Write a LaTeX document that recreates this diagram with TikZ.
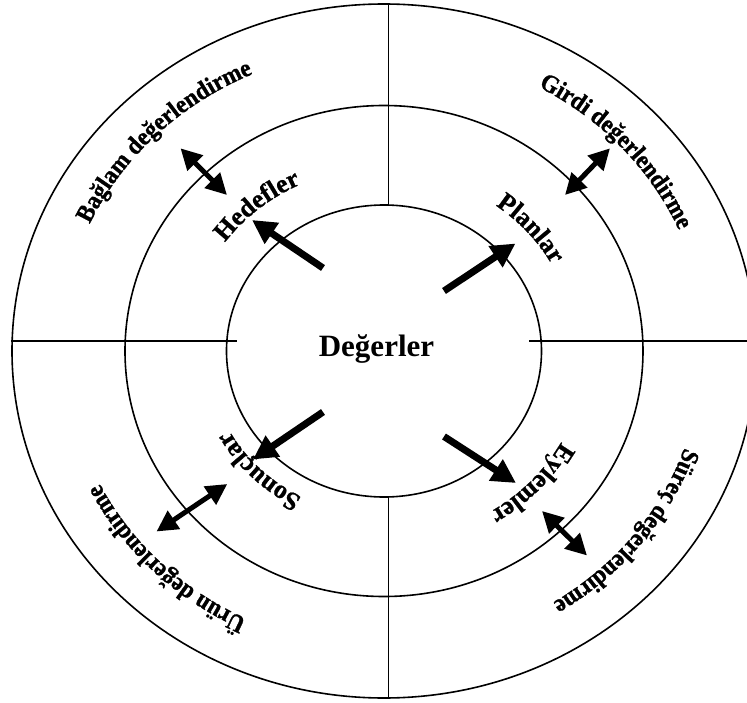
\documentclass[tikz,border=0pt]{standalone}
\usepackage{fontspec}
\setmainfont{Liberation Serif}
\newfontfamily\ringfont[FakeStretch=0.93,FakeBold=1.2]{Liberation Serif}
\newfontfamily\coreringfont[FakeBold=0.8]{Liberation Serif}
\usetikzlibrary{arrows.meta,decorations.text}

% text set along a clockwise elliptical arc, centred on angle #1,
% baseline at radius #2 (x radius stretched by 1.07), font commands #3
\newcommand\ringlabel[4]{%
  \path[decorate,decoration={text along path,text align=center,
      text={|#3|#4}}]
    ({#1+70}:{1.07*#2} and {#2})
    arc[start angle={#1+70},end angle={#1-70},x radius={1.07*#2},y radius={#2}];}

\newcommand\innerfont{\coreringfont\fontsize{26}{26}\selectfont\bfseries}
\newcommand\outerfont{\ringfont\fontsize{25}{25}\selectfont\bfseries}

\tikzset{
  ring/.style={line width=1.6pt},
  divider/.style={line width=1.8pt},
  flow/.style={line width=7pt,-{Triangle[length=24pt,width=24pt]}},
  link/.style={line width=5pt,
    {Triangle[length=21pt,width=21pt]}-{Triangle[length=21pt,width=21pt]}},
}

\begin{document}
\begin{tikzpicture}[x=1pt,y=1pt]
  \useasboundingbox (-384,-351) rectangle (363,351);

  % three rings
  \draw[ring] (0,0) ellipse [x radius=372, y radius=347];
  \draw[ring] (0,0) ellipse [x radius=259, y radius=245.5];
  \draw[ring] (0,0) ellipse [x radius=157.5, y radius=146];

  % dividers between the four quadrants
  \coordinate (vt1) at (4.6,347);   \coordinate (vt2) at (4.6,146);
  \coordinate (vb1) at (4.6,-146);  \coordinate (vb2) at (4.6,-347);
  \coordinate (hl1) at (-373,10.3); \coordinate (hl2) at (-147,10.3);
  \coordinate (hr1) at (145,10.3);  \coordinate (hr2) at (380,10.3);
  \draw[divider] (vt1) -- (vt2);
  \draw[divider] (vb1) -- (vb2);
  \draw[divider] (hl1) -- (hl2);
  \draw[divider] (hr1) -- (hr2);

  % centre
  \node[font=\bfseries\fontsize{31}{31}\selectfont,anchor=base] (values) at (-7.5,-5.7) {Değerler};

  % arrows from the centre outwards
  \coordinate (hedT) at (-61,83);   \coordinate (hedH) at (-132,131);
  \coordinate (plaT) at (60,60);    \coordinate (plaH) at (131.5,107.5);
  \coordinate (sonT) at (-61,-61);  \coordinate (sonH) at (-131,-108.5);
  \coordinate (eylT) at (60,-85.5); \coordinate (eylH) at (132,-132);
  \draw[flow] (hedT) -- (hedH);
  \draw[flow] (plaT) -- (plaH);
  \draw[flow] (sonT) -- (sonH);
  \draw[flow] (eylT) -- (eylH);

  % two-way arrows between middle and outer ring
  \coordinate (bagA) at (-203.5,202.7); \coordinate (bagB) at (-157,156);
  \coordinate (girA) at (226,202.7);    \coordinate (girB) at (181,156);
  \coordinate (uruA) at (-156.7,-133);  \coordinate (uruB) at (-227.5,-180.5);
  \coordinate (surA) at (158,-160);     \coordinate (surB) at (203,-204.5);
  \draw[link] (bagA) -- (bagB);
  \draw[link] (girA) -- (girB);
  \draw[link] (uruA) -- (uruB);
  \draw[link] (surA) -- (surB);

  % inner ring labels
  \ringlabel{131}{184}{\innerfont}{Hedefler}
  \ringlabel{40}{179}{\innerfont}{Planlar}
  \ringlabel{-136}{165}{\innerfont}{Sonuçlar}
  \ringlabel{-42}{189}{\innerfont}{Eylemler}

  % outer ring labels
  \ringlabel{136}{303}{\outerfont}{Bağlam değerlendirme}
  \ringlabel{41}{301}{\outerfont}{Girdi değerlendirme}
  \ringlabel{-37}{297}{\outerfont}{Süreç değerlendirme}
  \ringlabel{-136}{297}{\outerfont}{Ürün değerlendirme}
\end{tikzpicture}
\end{document}
